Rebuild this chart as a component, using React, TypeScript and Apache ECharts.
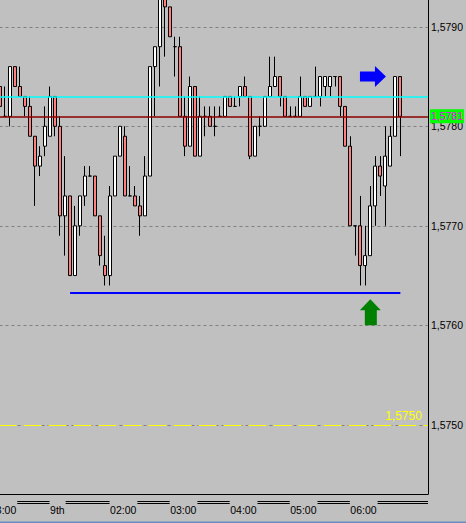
import React, { useEffect, useRef } from 'react';
import * as echarts from 'echarts';

// ---- bars (M5), first data bar is bar -1 (partly cut at the left edge) ----
const DATA_FIRST_BAR = -1;
const OPEN = [
  1.5784, 1.5781, 1.5781, 1.5786, 1.5784, 1.5783, 1.5782, 1.5779, 1.5776, 1.5778,
  1.5779, 1.5783, 1.5780, 1.5771, 1.5773, 1.5765, 1.5770, 1.5773, 1.5775, 1.5775,
  1.5771, 1.5766, 1.5765, 1.5773, 1.5777, 1.5779, 1.5773, 1.5773, 1.5772, 1.5771,
  1.5775, 1.5786, 1.5788, 1.5794, 1.5792, 1.5788, 1.5788, 1.5781, 1.5778, 1.5784,
  1.5777, 1.5781, 1.5781, 1.5780, 1.5781, 1.5781, 1.5783, 1.5782, 1.5783, 1.5784,
  1.5783, 1.5777, 1.5780, 1.5780, 1.5783, 1.5784, 1.5785, 1.5783, 1.5781, 1.5781,
  1.5781, 1.5783, 1.5782, 1.5783, 1.5783, 1.5784, 1.5784, 1.5785, 1.5785, 1.5782,
  1.5778, 1.5770, 1.5770, 1.5766, 1.5767, 1.5772, 1.5776, 1.5774, 1.5776, 1.5779,
  1.5785,
];
const CLOSE = [
  1.5782, 1.5781, 1.5786, 1.5784, 1.5783, 1.5782, 1.5779, 1.5776, 1.5777, 1.5780,
  1.5783, 1.5780, 1.5771, 1.5773, 1.5765, 1.5770, 1.5773, 1.5775, 1.5775, 1.5771,
  1.5767, 1.5765, 1.5773, 1.5777, 1.5780, 1.5773, 1.5773, 1.5772, 1.5771, 1.5775,
  1.5786, 1.5788, 1.5794, 1.5792, 1.5789, 1.5788, 1.5781, 1.5778, 1.5784, 1.5777,
  1.5781, 1.5781, 1.5780, 1.5780, 1.5781, 1.5783, 1.5782, 1.5782, 1.5784, 1.5783,
  1.5777, 1.5780, 1.5780, 1.5783, 1.5784, 1.5785, 1.5783, 1.5781, 1.5781, 1.5781,
  1.5783, 1.5782, 1.5783, 1.5783, 1.5785, 1.5785, 1.5785, 1.5785, 1.5782, 1.5778,
  1.5770, 1.5770, 1.5766, 1.5767, 1.5772, 1.5776, 1.5775, 1.5777, 1.5779, 1.5785,
  1.5781,
];
const LOW = [
  1.5782, 1.5781, 1.5780, 1.5784, 1.5783, 1.5781, 1.5779, 1.5772, 1.5775, 1.5777,
  1.5779, 1.5779, 1.5769, 1.5767, 1.5765, 1.5765, 1.5769, 1.5772, 1.5775, 1.5771,
  1.5766, 1.5764, 1.5764, 1.5773, 1.5777, 1.5773, 1.5773, 1.5772, 1.5769, 1.5771,
  1.5775, 1.5781, 1.5784, 1.5787, 1.5789, 1.5785, 1.5781, 1.5777, 1.5778, 1.5777,
  1.5777, 1.5779, 1.5780, 1.5779, 1.5781, 1.5781, 1.5782, 1.5782, 1.5782, 1.5783,
  1.57767, 1.5777, 1.5779, 1.5780, 1.5783, 1.5784, 1.5782, 1.5781, 1.5781, 1.5781,
  1.5781, 1.5782, 1.5782, 1.5783, 1.5782, 1.5783, 1.5783, 1.5784, 1.5781, 1.5778,
  1.5770, 1.5767, 1.5764, 1.5764, 1.5767, 1.5770, 1.5773, 1.5770, 1.5776, 1.5779,
  1.5777,
];
const HIGH = [
  1.5784, 1.5784, 1.5786, 1.5786, 1.5786, 1.5783, 1.5783, 1.5779, 1.5778, 1.5782,
  1.5784, 1.5783, 1.5781, 1.5777, 1.5773, 1.5772, 1.5773, 1.5776, 1.5776, 1.5775,
  1.5771, 1.5769, 1.5774, 1.5777, 1.5780, 1.5780, 1.5776, 1.5774, 1.5773, 1.5777,
  1.5786, 1.5788, 1.5795, 1.5795, 1.5792, 1.5789, 1.5789, 1.5783, 1.5785, 1.5784,
  1.5783, 1.5782, 1.5782, 1.5782, 1.5782, 1.5783, 1.5783, 1.5783, 1.5784, 1.5785,
  1.5783, 1.5780, 1.5781, 1.5783, 1.5787, 1.5787, 1.5785, 1.5783, 1.5782, 1.5782,
  1.5785, 1.5783, 1.5783, 1.5786, 1.5785, 1.5785, 1.5785, 1.5785, 1.5785, 1.5782,
  1.5779, 1.5770, 1.5773, 1.5770, 1.5774, 1.5777, 1.5777, 1.5780, 1.5780, 1.5785,
  1.5785,
];

// ---- time axis ----
const FIRST_BAR = -3; // first category
const BAR_COUNT = 88;
const TIME_MARK_BARS = [-3, 9, 21, 33, 45, 57, 69];
const TIME_MARK_HOURS = [23, 0, 2, 3, 4, 5, 6];
const TIME_MARK_LABELS = ['23:00', '9th', '02:00', '03:00', '04:00', '05:00', '06:00'];

// ---- price axis ----
const Y_MIN = 1.574;
const Y_MAX = 1.58;
const Y_STEP = 0.001;

// ---- chart objects ----
const CYAN_LEVEL = 1.5783;
const BID_LEVEL = 1.5781;
const BID_TEXT = '1,5781';
const YELLOW_LEVEL = 1.575;
const YELLOW_TEXT = '1,5750';
const SUPPORT_LEVEL = 1.57633;
const SUPPORT_FROM_BAR = 13;
const SUPPORT_TO_BAR = 79;
const RIGHT_ARROW = { bar: 74, price: 1.5785 };
const UP_ARROW = { bar: 73, price: 1.57613 };

const FONT = "'Liberation Sans', Arial, sans-serif";
const FS = 10.5;

const pad = (n: number) => (n < 10 ? '0' + n : '' + n);
const CATS: string[] = [];
for (let i = 0; i < BAR_COUNT; i++) {
  const k = i + FIRST_BAR;
  let j = 0;
  for (let m = 0; m < TIME_MARK_BARS.length; m++) if (TIME_MARK_BARS[m] <= k) j = m;
  const mins = (k - TIME_MARK_BARS[j]) * 5;
  const h = (TIME_MARK_HOURS[j] + Math.floor(mins / 60)) % 24;
  CATS.push(pad(h) + ':' + pad(mins % 60));
}
const catOf = (bar: number) => CATS[bar - FIRST_BAR];

// the chart div is shifted so the plot can start left of / above the page
const OX = -13;
const OY = -73;
const DIV_W = 466 - OX;
const DIV_H = 610;
const GRID_LEFT = 0;
const GRID_WIDTH = 441;
const GRID_TOP = 0.3;
const GRID_HEIGHT = 597;
const AXIS_Y = 494.5 - OY; // in div coords

export default function App() {
  const ref = useRef<HTMLDivElement>(null);
  useEffect(() => {
    const el = ref.current;
    if (!el) return;
    const chart = echarts.init(el, null, { renderer: 'svg' });

    const seriesData = CATS.map((_, i) => {
      const d = i + FIRST_BAR - DATA_FIRST_BAR;
      if (d < 0 || d >= OPEN.length) return '-';
      return [OPEN[d], CLOSE[d], LOW[d], HIGH[d]];
    });

    const option: any = {
      animation: false,
      backgroundColor: '#c0c0c0',
      grid: { left: GRID_LEFT, top: GRID_TOP, width: GRID_WIDTH, height: GRID_HEIGHT, containLabel: false },
      xAxis: {
        type: 'category',
        data: CATS,
        boundaryGap: true,
        offset: -(GRID_TOP + GRID_HEIGHT - AXIS_Y),
        axisLine: { show: true, lineStyle: { color: '#000', width: 1 } },
        axisTick: { show: false },
        splitLine: { show: false },
        axisLabel: {
          interval: (index: number) => TIME_MARK_BARS.indexOf(index + FIRST_BAR) >= 0,
          formatter: (_v: string, index: number) => {
            const j = TIME_MARK_BARS.indexOf(index + FIRST_BAR);
            return j >= 0 ? TIME_MARK_LABELS[j] : '';
          },
          align: 'left',
          margin: 10,
          color: '#000',
          fontSize: FS,
          fontFamily: FONT,
        },
      },
      yAxis: {
        type: 'value',
        position: 'right',
        min: Y_MIN,
        max: Y_MAX,
        interval: Y_STEP,
        axisLine: { show: false },
        axisTick: { show: false },
        axisLabel: {
          margin: 3,
          color: '#000',
          fontSize: FS,
          fontFamily: FONT,
          formatter: (v: number) =>
            v < Y_MIN + Y_STEP / 2 || v > Y_MAX - Y_STEP / 2 ? '' : v.toFixed(4).replace('.', ','),
        },
        splitLine: { show: true, lineStyle: { color: '#808080', width: 1, type: [3, 3] } },
      },
      series: [
        {
          type: 'candlestick',
          data: seriesData,
          barWidth: 3.5,
          z: 2,
          itemStyle: {
            color: '#ffffff',
            color0: '#ff8080',
            borderColor: '#000000',
            borderColor0: '#000000',
            borderColorDoji: '#000000',
            borderWidth: 1,
          },
          emphasis: { disabled: true },
          markPoint: {
            silent: true,
            label: { show: false },
            data: [
              {
                coord: [catOf(RIGHT_ARROW.bar), RIGHT_ARROW.price],
                symbol: 'path://M0 5.5 L15 5.5 L15 0 L26 10.5 L15 21 L15 15.5 L0 15.5 Z',
                symbolSize: [26, 21],
                symbolOffset: [-2.4, 0],
                itemStyle: { color: '#0000ff' },
              },
              {
                coord: [catOf(UP_ARROW.bar), UP_ARROW.price],
                symbol: 'path://M10.5 0 L21 11 L17 11 L17 26 L5 26 L5 11 L0 11 Z',
                symbolSize: [21, 26],
                symbolOffset: [0, 0],
                itemStyle: { color: '#008000' },
              },
            ],
          },
        },
        {
          // carrier for the horizontal line objects
          type: 'line',
          data: [],
          z: 3,
          silent: true,
          markLine: {
            silent: true,
            precision: 6,
            symbol: ['none', 'none'],
            animation: false,
            data: [
              {
                yAxis: CYAN_LEVEL,
                lineStyle: { color: '#00ffff', width: 1.5, type: 'solid' },
                label: { show: false },
              },
              {
                yAxis: BID_LEVEL,
                lineStyle: { color: '#8b0000', width: 1.5, type: 'solid' },
                label: {
                  show: true,
                  position: 'end',
                  formatter: BID_TEXT,
                  backgroundColor: '#00ff00',
                  color: '#ff00ff',
                  padding: [2, 1, 1, 1],
                  distance: 2,
                  fontSize: FS,
                  fontFamily: FONT,
                },
              },
              {
                yAxis: YELLOW_LEVEL,
                lineStyle: { color: '#ffff00', width: 1, type: [18, 7], dashOffset: 14 },
                label: {
                  show: true,
                  position: 'insideEndTop',
                  formatter: YELLOW_TEXT,
                  color: '#ffff00',
                  distance: [6, 3],
                  fontSize: 12,
                  fontFamily: FONT,
                },
              },
              [
                {
                  coord: [catOf(SUPPORT_FROM_BAR), SUPPORT_LEVEL],
                  lineStyle: { color: '#0000ff', width: 2, type: 'solid' },
                  label: { show: false },
                },
                { coord: [catOf(SUPPORT_TO_BAR), SUPPORT_LEVEL] },
              ],
            ],
          },
        },
      ],
    };
    chart.setOption(option);

    // time-scale separator double lines between labels
    const ctx = document.createElement('canvas').getContext('2d');
    const children: any[] = [];
    const plotRight = GRID_LEFT + GRID_WIDTH;
    if (ctx) {
      ctx.font = `${FS}px ${FONT}`;
      const xs = TIME_MARK_BARS.map((b) => chart.convertToPixel({ xAxisIndex: 0 }, catOf(b)) as number);
      for (let i = 0; i < xs.length; i++) {
        const start = xs[i] + ctx.measureText(TIME_MARK_LABELS[i]).width + 1;
        const end = i + 1 < xs.length ? xs[i + 1] - 0.5 : plotRight;
        if (end <= start) continue;
        for (const dy of [7, 9]) {
          children.push({
            type: 'line',
            silent: true,
            shape: { x1: start, y1: AXIS_Y + dy, x2: end, y2: AXIS_Y + dy },
            style: { stroke: '#000', lineWidth: 1 },
          });
        }
      }
    }
    // price-scale border
    children.push({
      type: 'line',
      silent: true,
      shape: { x1: plotRight + 0.5, y1: 0, x2: plotRight + 0.5, y2: AXIS_Y },
      style: { stroke: '#000', lineWidth: 1 },
      z: 10,
    });
    // window bottom edge
    children.push({
      type: 'rect',
      silent: true,
      shape: { x: 0, y: 521.5 - OY, width: DIV_W, height: 2 },
      style: { fill: '#6a8dc0' },
      z: 10,
    });
    chart.setOption({ graphic: [{ type: 'group', x: 0, y: 0, children }] });

    return () => chart.dispose();
  }, []);

  return (
    <div
      ref={ref}
      style={{ position: 'fixed', left: OX, top: OY, width: DIV_W, height: DIV_H, background: '#c0c0c0' }}
    />
  );
}
